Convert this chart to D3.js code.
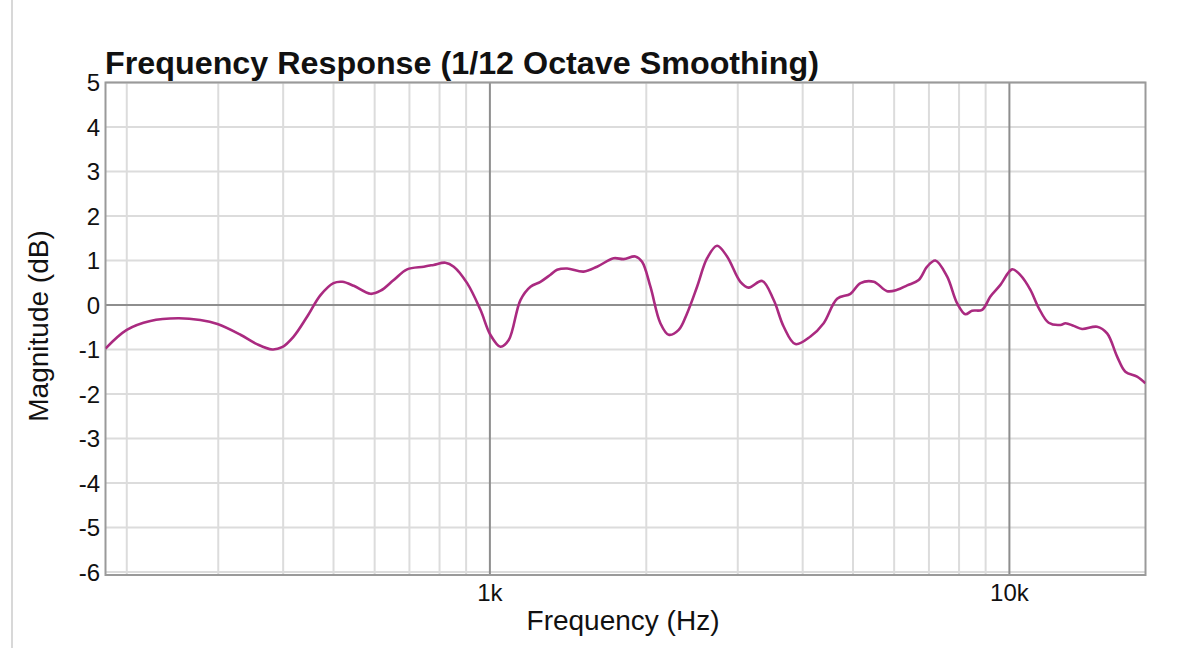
<!DOCTYPE html>
<html>
<head>
<meta charset="utf-8">
<script src="https://cdn.jsdelivr.net/npm/d3@7"></script>
<style>
  body { margin: 0; background: #fff; }
  text { font-family: "Liberation Sans", Arial, Helvetica, sans-serif; fill: #111; }
</style>
</head>
<body>
<svg id="chart" width="1200" height="648"></svg>
<script>
// frequency (Hz)
const freqs = [182, 200, 222, 251, 277, 299, 331, 356, 381, 398, 419, 445, 472, 500, 520, 547,
  589, 616, 653, 693, 746, 779, 821, 852, 904, 959, 1002, 1048, 1087, 1145, 1197, 1251,
  1308, 1347, 1408, 1515, 1608, 1731, 1809, 1905, 1963, 2037, 2129, 2209, 2309, 2396,
  2505, 2619, 2737, 2861, 3035, 3149, 3342, 3518, 3678, 3873, 4140, 4390, 4660, 4943,
  5168, 5482, 5817, 6080, 6356, 6689, 6943, 7203, 7586, 7930, 8227, 8475, 8860, 9192,
  9609, 10120, 10500, 10975, 11390, 11900, 12540, 12820, 13300, 13800, 14750, 15420,
  16120, 16720, 17610, 18270];
// magnitude (dB)
const mags = [-0.98, -0.56, -0.36, -0.30, -0.34, -0.43, -0.67, -0.88, -1.0, -0.95, -0.71, -0.26,
  0.22, 0.49, 0.52, 0.43, 0.25, 0.32, 0.56, 0.80, 0.86, 0.90, 0.95, 0.86, 0.49, -0.11, -0.67,
  -0.94, -0.79, 0.11, 0.41, 0.52, 0.68, 0.79, 0.82, 0.75, 0.86, 1.05, 1.03, 1.09, 0.97, 0.41,
  -0.41, -0.67, -0.56, -0.19, 0.41, 1.05, 1.33, 1.09, 0.52, 0.39, 0.54, 0.11, -0.49, -0.88,
  -0.71, -0.41, 0.14, 0.25, 0.49, 0.52, 0.31, 0.34, 0.44, 0.56, 0.86, 1.0, 0.64, 0.04, -0.21,
  -0.13, -0.11, 0.19, 0.45, 0.80, 0.67, 0.34, -0.07, -0.40, -0.45, -0.41, -0.47, -0.54,
  -0.49, -0.64, -1.16, -1.50, -1.61, -1.76];

const minorFreqs = [200, 300, 400, 500, 600, 700, 800, 900, 2000, 3000, 4000, 5000, 6000, 7000, 8000, 9000];
const majorFreqs = [1000, 10000];
const majorLabels = ["1k", "10k"];
const dbTicks = [5, 4, 3, 2, 1, 0, -1, -2, -3, -4, -5, -6];

const title = "Frequency Response (1/12 Octave Smoothing)";
const xTitle = "Frequency (Hz)";
const yTitle = "Magnitude (dB)";

const svg = d3.select("#chart");
const plotL = 105.5, plotR = 1145.5, plotT = 82.5, plotB = 575;

const x = d3.scaleLog().domain([182, 18280]).range([plotL, plotR]);
const y = d3.scaleLinear().domain([-6.07, 5]).range([plotB, plotT]);

// page edge line
svg.append("line")
    .attr("x1", 12).attr("x2", 12).attr("y1", 0).attr("y2", 648)
    .attr("stroke", "#d8d8d8").attr("stroke-width", 2);

const grid = svg.append("g").attr("class", "grid");

grid.selectAll("line.h").data(dbTicks.filter(d => d !== 0)).enter().append("line")
    .attr("x1", plotL).attr("x2", plotR)
    .attr("y1", d => y(d)).attr("y2", d => y(d))
    .attr("stroke", "#dcdcdc").attr("stroke-width", 2);

grid.selectAll("line.v").data(minorFreqs).enter().append("line")
    .attr("x1", d => x(d)).attr("x2", d => x(d))
    .attr("y1", plotT).attr("y2", plotB)
    .attr("stroke", "#dcdcdc").attr("stroke-width", 2);

// darker reference lines
grid.append("line")
    .attr("x1", plotL).attr("x2", plotR).attr("y1", y(0)).attr("y2", y(0))
    .attr("stroke", "#8e8e8e").attr("stroke-width", 2);
grid.selectAll("line.m").data(majorFreqs).enter().append("line")
    .attr("x1", d => x(d)).attr("x2", d => x(d))
    .attr("y1", plotT).attr("y2", plotB)
    .attr("stroke", "#8e8e8e").attr("stroke-width", 2);

// frame
svg.append("rect")
    .attr("x", plotL).attr("y", plotT)
    .attr("width", plotR - plotL).attr("height", plotB - plotT)
    .attr("fill", "none").attr("stroke", "#9a9a9a").attr("stroke-width", 2);

svg.append("clipPath").attr("id", "clip")
  .append("rect").attr("x", plotL).attr("y", plotT)
    .attr("width", plotR - plotL).attr("height", plotB - plotT);

const data = freqs.map((f, i) => ({ f: f, v: mags[i] }));
const line = d3.line()
    .x(d => x(d.f))
    .y(d => y(d.v))
    .curve(d3.curveCatmullRom.alpha(0.5));

svg.append("path")
    .datum(data)
    .attr("clip-path", "url(#clip)")
    .attr("d", line)
    .attr("fill", "none")
    .attr("stroke", "#aa2a80")
    .attr("stroke-width", 2.6)
    .attr("stroke-linejoin", "round");

// y tick labels
svg.selectAll("text.yt").data(dbTicks).enter().append("text")
    .attr("x", 100).attr("y", d => y(d))
    .attr("dy", "0.36em")
    .attr("text-anchor", "end")
    .attr("font-size", 24)
    .text(d => d);

// x tick labels
svg.selectAll("text.xt").data(majorFreqs).enter().append("text")
    .attr("x", d => x(d)).attr("y", 601)
    .attr("text-anchor", "middle")
    .attr("font-size", 24)
    .text((d, i) => majorLabels[i]);

svg.append("text")
    .attr("x", 105).attr("y", 74)
    .attr("font-size", 31)
    .attr("font-weight", "bold")
    .attr("textLength", 714)
    .attr("lengthAdjust", "spacingAndGlyphs")
    .text(title);

svg.append("text")
    .attr("x", 623).attr("y", 630)
    .attr("text-anchor", "middle")
    .attr("font-size", 28)
    .text(xTitle);

svg.append("text")
    .attr("transform", "translate(48,326) rotate(-90)")
    .attr("text-anchor", "middle")
    .attr("font-size", 28)
    .text(yTitle);
</script>
</body>
</html>
